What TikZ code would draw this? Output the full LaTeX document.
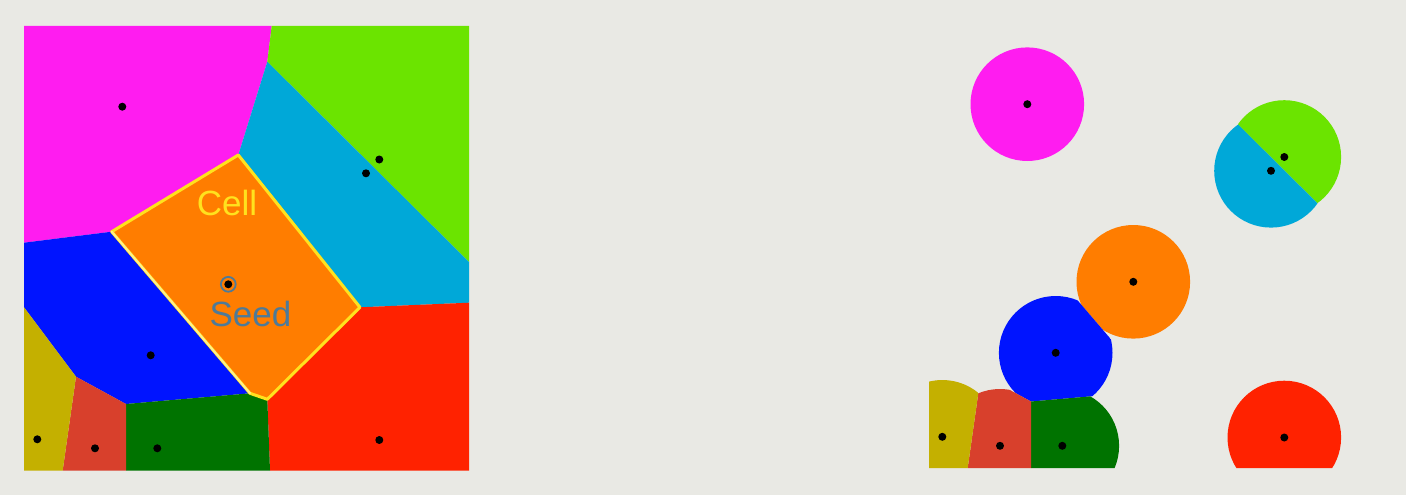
\documentclass[tikz,border=0pt]{standalone}
\usepackage{fontspec}
\setmainfont{Liberation Sans}
\definecolor{bg}{RGB}{233,233,228}
\definecolor{cmag}{RGB}{255,28,240}
\definecolor{clime}{RGB}{107,228,0}
\definecolor{ccyan}{RGB}{0,168,216}
\definecolor{corange}{RGB}{255,125,0}
\definecolor{cblue}{RGB}{0,20,255}
\definecolor{cred}{RGB}{255,34,0}
\definecolor{colive}{RGB}{196,176,0}
\definecolor{cbrick}{RGB}{216,64,44}
\definecolor{cdkgreen}{RGB}{0,115,0}
\definecolor{cellyellow}{RGB}{255,226,30}
\definecolor{paleyellow}{RGB}{255,240,140}
\definecolor{seedblue}{RGB}{78,122,152}
\newcommand\defvoronoipts{%
  \coordinate (TL) at (24,26);
  \coordinate (TR) at (469,26);
  \coordinate (BR) at (469,470.5);
  \coordinate (BL) at (24,470.5);
  \coordinate (A) at (271.7,26);
  \coordinate (B) at (267.3,61.7);
  \coordinate (C) at (238.3,155);
  \coordinate (D) at (111.7,231.7);
  \coordinate (E) at (24,242.7);
  \coordinate (F) at (469,262);
  \coordinate (G) at (360,307.3);
  \coordinate (H) at (469,302.7);
  \coordinate (I) at (250,393.3);
  \coordinate (J) at (267.3,399.3);
  \coordinate (K) at (270,470.5);
  \coordinate (L) at (126,404);
  \coordinate (M) at (76,376.7);
  \coordinate (N) at (24,307.3);
  \coordinate (O) at (62.7,470.5);
  \coordinate (P) at (126,470.5);
  \coordinate (sMag) at (122.3,106.7);
  \coordinate (sLime) at (379.3,159.5);
  \coordinate (sCyan) at (366,173.3);
  \coordinate (sOra) at (228.3,284.3);
  \coordinate (sBlue) at (150.7,355.3);
  \coordinate (sOlive) at (37.3,439.3);
  \coordinate (sBrick) at (95,448.3);
  \coordinate (sDk) at (157.3,448.3);
  \coordinate (sRed) at (379.3,440);
}
\newcommand\cellMag{(TL) -- (A) -- (B) -- (C) -- (D) -- (E) -- cycle}
\newcommand\cellLime{(A) -- (TR) -- (F) -- (B) -- cycle}
\newcommand\cellCyan{(B) -- (F) -- (H) -- (G) -- (C) -- cycle}
\newcommand\cellOra{(C) -- (G) -- (J) -- (I) -- (D) -- cycle}
\newcommand\cellBlue{(E) -- (D) -- (I) -- (L) -- (M) -- (N) -- cycle}
\newcommand\cellRed{(G) -- (H) -- (BR) -- (K) -- (J) -- cycle}
\newcommand\cellDk{(I) -- (J) -- (K) -- (P) -- (L) -- cycle}
\newcommand\cellBrick{(M) -- (L) -- (P) -- (O) -- cycle}
\newcommand\cellOlive{(N) -- (M) -- (O) -- (BL) -- cycle}
\tikzset{
  seeddot/.style={fill=black},
  celloutline/.style={draw=cellyellow, line width=3pt, line join=round},
  lbl/.style={font=\fontsize{35}{40}\selectfont, inner sep=0pt}
}
\begin{document}
\begin{tikzpicture}[x=1pt,y=-1pt]
\fill[bg] (0,0) rectangle (1406,495);
\useasboundingbox (0,0) rectangle (1406,495);
% ---------- left: Voronoi diagram ----------
\begin{scope}
  \defvoronoipts
  \fill[cmag] \cellMag;
  \fill[clime] \cellLime;
  \fill[ccyan] \cellCyan;
  \fill[cblue] \cellBlue;
  \fill[cred] \cellRed;
  \fill[cdkgreen] \cellDk;
  \fill[cbrick] \cellBrick;
  \fill[colive] \cellOlive;
  \fill[corange] \cellOra;
  \draw[celloutline] \cellOra;
  \draw[paleyellow, line width=2pt, line cap=round] (D) -- (I);
  \foreach \s in {sMag,sLime,sCyan,sBlue,sOlive,sBrick,sDk,sRed}
    \fill[seeddot] (\s) circle[radius=4pt];
  \draw[seedblue, line width=1.8pt] (sOra) circle[radius=7.4pt];
  \fill[seeddot] (sOra) circle[radius=4pt];
  \node[lbl, text=cellyellow] (celllabel) at (227,203) {Cell};
  \node[lbl, text=seedblue] (seedlabel) at (250.5,314) {Seed};
\end{scope}
% ---------- right: circles restricted to the cells ----------
\begin{scope}[shift={(905,-2.5)}]
  \defvoronoipts
  \clip (TL) rectangle (BR);
  \foreach \s/\c/\col in {sMag/\cellMag/cmag, sLime/\cellLime/clime,
      sCyan/\cellCyan/ccyan, sOra/\cellOra/corange, sBlue/\cellBlue/cblue,
      sRed/\cellRed/cred, sDk/\cellDk/cdkgreen, sBrick/\cellBrick/cbrick,
      sOlive/\cellOlive/colive}{
    \begin{scope}
      \clip (\s) circle[radius=56.8pt];
      \fill[\col] \c;
    \end{scope}
  }
  \foreach \s in {sMag,sLime,sCyan,sOra,sBlue,sOlive,sBrick,sDk,sRed}
    \fill[seeddot] (\s) circle[radius=4pt];
\end{scope}
\end{tikzpicture}
\end{document}
